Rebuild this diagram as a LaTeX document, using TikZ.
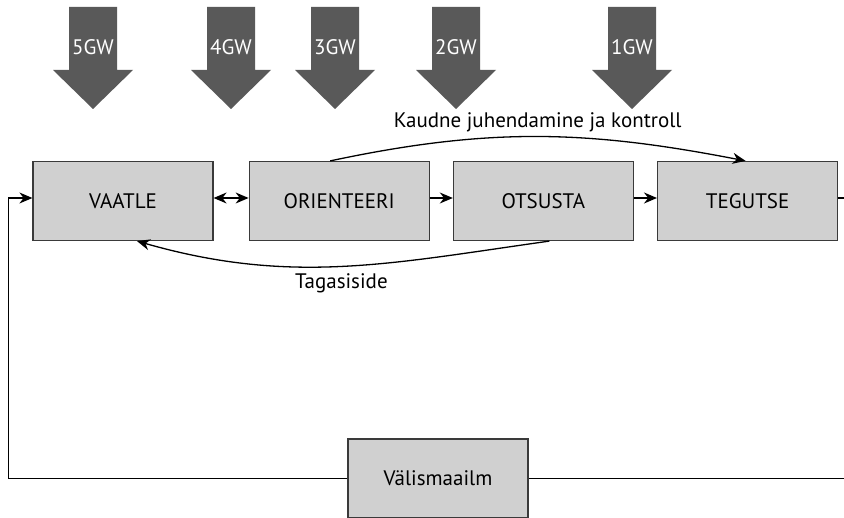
\documentclass[tikz,border=0pt]{standalone}
\usepackage{fontspec}
\setmainfont{PT Sans}
\usetikzlibrary{arrows.meta,positioning}

\definecolor{boxgray}{HTML}{D0D0D0}
\definecolor{arrowgray}{HTML}{595959}
\definecolor{edgegray}{HTML}{3A3A3A}

\tikzset{
  >={Stealth[length=13pt,width=11pt]},
  stage/.style={draw=edgegray, line width=1.2pt, fill=boxgray, minimum width=180pt,
    minimum height=79pt, inner sep=0pt, font=\fontsize{21}{24}\selectfont},
  flow/.style={line width=1.3pt, ->},
  gwlabel/.style={text=white, font=\fontsize{21}{24}\selectfont, inner sep=0pt},
  note/.style={font=\fontsize{21}{24}\selectfont, inner sep=0pt}
}

\begin{document}
\begin{tikzpicture}[x=1pt, y=-1pt]
    \useasboundingbox (0,0) rectangle (844,518);
    \clip (0,0) rectangle (844,518);

    % the big block arrows on top
    \foreach \cx/\gw in {93/5GW, 231/4GW, 335/3GW, 456/2GW, 632/1GW}{
        \fill[arrowgray] (\cx-24,7) -- (\cx+24,7) -- (\cx+24,70) -- (\cx+40,70)
            -- (\cx,109) -- (\cx-40,70) -- (\cx-24,70) -- cycle;
        \node[gwlabel] (gw\gw) at (\cx,47) {\gw};
    }

    % the four stages
    \node[stage] (vaatle) at (123,201) {VAATLE};
    \node[stage, right=35pt of vaatle] (orient) {ORIENTEERI};
    \node[stage, right=23pt of orient] (otsusta) {OTSUSTA};
    \node[stage, right=23pt of otsusta] (tegutse) {TEGUTSE};

    % outside world
    \node[stage] (valis) at (438,478.5) {Välismaailm};

    % main flow
    \draw[flow, <->] ([yshift=3pt]vaatle.east) -- ([yshift=3pt]orient.west);
    \draw[flow] ([yshift=3pt]orient.east) -- ([yshift=3pt]otsusta.west);
    \draw[flow] ([yshift=3pt]otsusta.east) -- ([yshift=3pt]tegutse.west);

    % curved links
    \draw[flow] ([xshift=-9pt]orient.north) to[out=12, in=169]
        node[note, above=4pt, pos=0.5] (kaudne) {Kaudne juhendamine ja kontroll}
        ([xshift=-2pt]tegutse.north);
    \draw[flow] ([xshift=6pt]otsusta.south) to[out=-172, in=-16]
        node[note, below=7pt, pos=0.5] (tagasi) {Tagasiside}
        ([xshift=14pt]vaatle.south);

    % loop through the outside world
    \draw[flow] (valis.west) -| ([xshift=-24pt,yshift=3pt]vaatle.west)
        -- ([yshift=3pt]vaatle.west);
    \draw[line width=1.3pt] ([yshift=3pt]tegutse.east) -- ++(30,0) |- (valis.east);
\end{tikzpicture}
\end{document}
